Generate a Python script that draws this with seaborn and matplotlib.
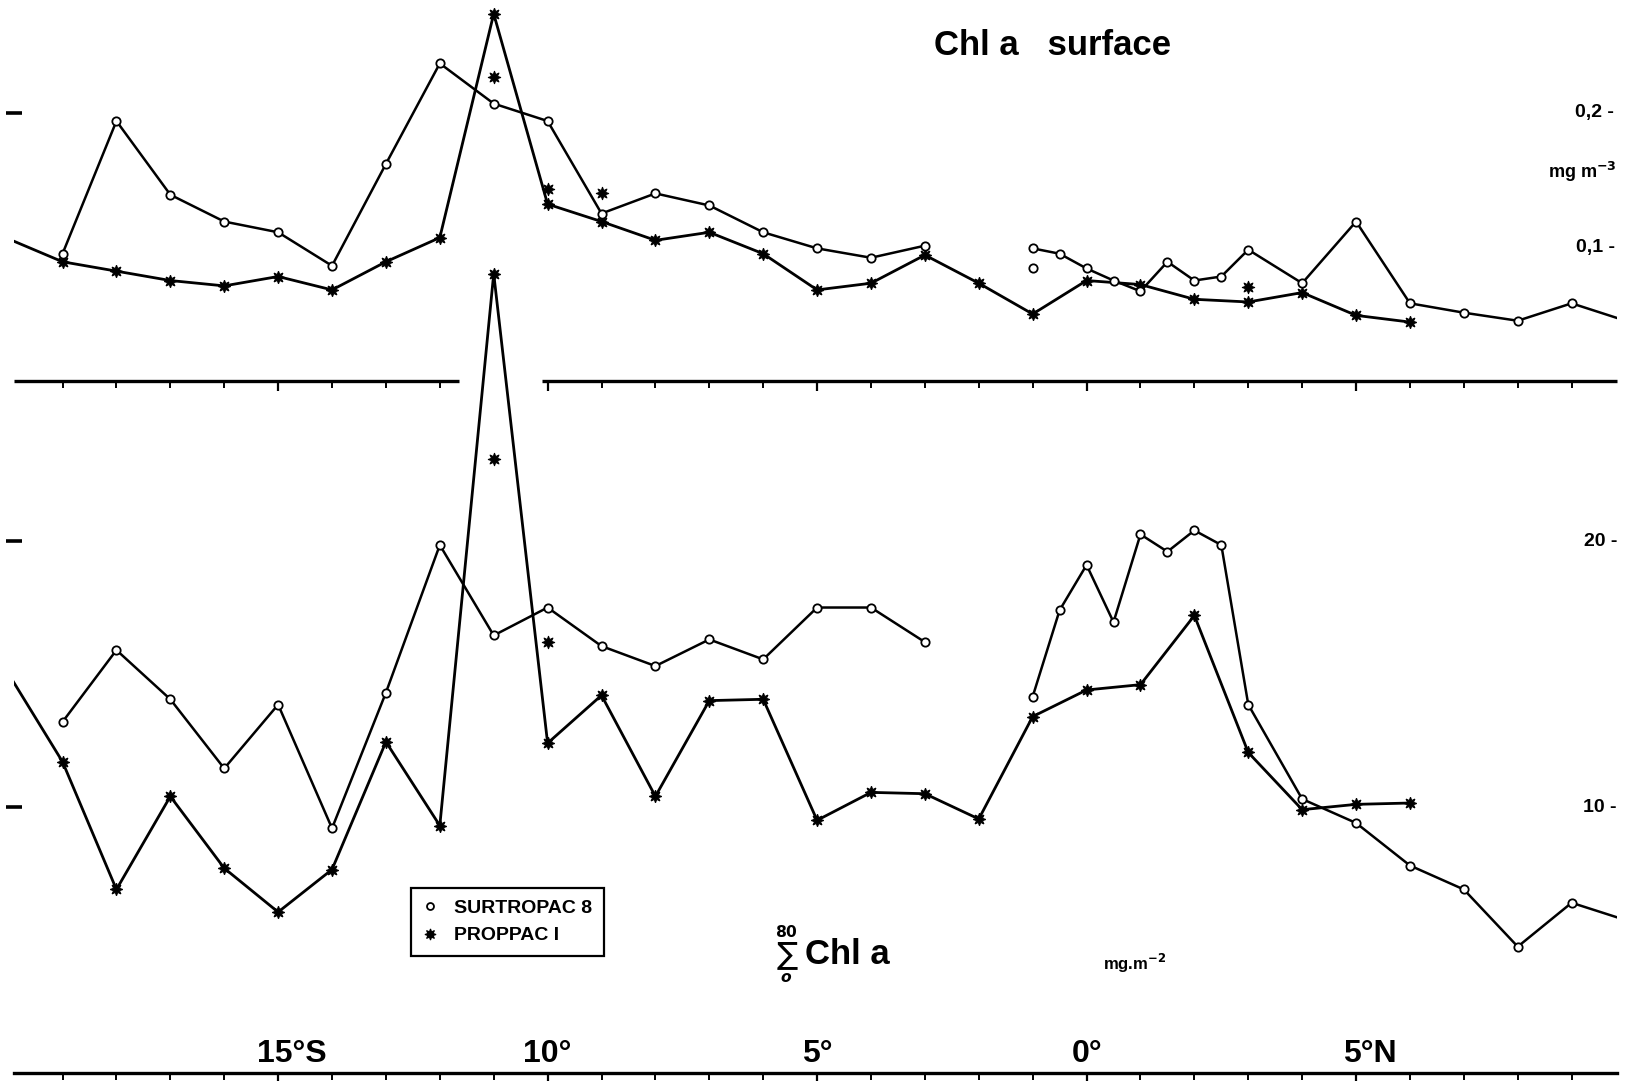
import pandas as pd
import matplotlib
matplotlib.use("Agg")
import matplotlib.pyplot as plt
import seaborn as sns
from matplotlib.lines import Line2D

# latitude in degrees, south is negative
sur_lat_a = [-19, -18, -17, -16, -15, -14, -13, -12, -11, -10, -9, -8, -7, -6, -5, -4, -3]
sur_lat_b = [-1, -0.5, 0, 0.5, 1, 1.5, 2, 2.5, 3, 4, 5, 6, 7, 8, 9, 10]
pro_lat = list(range(-20, 7))

# Chl a surface, mg m-3
sur_surface_a = [0.095, 0.194, 0.139, 0.119, 0.111, 0.086, 0.162, 0.237, 0.207, 0.194,
                 0.125, 0.140, 0.131, 0.111, 0.099, 0.092, 0.101]
sur_surface_b = [0.099, 0.095, 0.084, 0.075, 0.067, 0.089, 0.075, 0.078, 0.098, 0.073,
                 0.119, 0.058, 0.051, 0.045, 0.058, 0.045]
pro_surface = [0.106, 0.089, 0.082, 0.075, 0.071, 0.078, 0.068, 0.089, 0.107, 0.274,
               0.132, 0.119, 0.105, 0.111, 0.095, 0.068, 0.073, 0.094, 0.073, 0.050,
               0.075, 0.072, 0.061, 0.059, 0.066, 0.049, 0.044]

# integrated Chl a 0-80 m, mg m-2
sur_integrated_a = [13.2, 15.9, 14.05, 11.45, 13.85, 9.2, 14.3, 19.85, 16.45, 17.5,
                    16.05, 15.3, 16.3, 15.55, 17.5, 17.5, 16.2]
sur_integrated_b = [14.15, 17.4, 19.1, 16.95, 20.25, 19.6, 20.4, 19.85, 13.85, 10.3,
                    9.4, 7.8, 6.9, 4.75, 6.4, 5.75]
pro_integrated = [15.0, 11.7, 6.9, 10.4, 7.7, 6.05, 7.65, 12.45, 9.3, 30.05,
                  12.4, 14.2, 10.4, 14.0, 14.05, 9.5, 10.55, 10.5, 9.55, 13.4,
                  14.4, 14.6, 17.2, 12.05, 9.9, 10.1, 10.15]

# single casts not joined by the lines
sur_surface_extra_lat = [-1]
sur_surface_extra = [0.084]
pro_surface_extra_lat = [-11, -10, -9, 3]
pro_surface_extra = [0.227, 0.143, 0.140, 0.070]
pro_integrated_extra_lat = [-11, -10]
pro_integrated_extra = [23.1, 16.2]

lat_ticks = [-15, -10, -5, 0, 5]
lat_labels = ["15°S", "10°", "5°", "0°", "5°N"]


def segments(*parts):
    rows = []
    for k, (lat, val) in enumerate(parts):
        for x, y in zip(lat, val):
            rows.append({"lat": x, "value": y, "seg": k})
    return pd.DataFrame(rows)


sns.set_theme(style="white")
plt.rcParams["font.family"] = ["Liberation Sans", "DejaVu Sans"]
plt.rcParams["font.weight"] = "bold"
plt.rcParams["text.color"] = "black"

fig = plt.figure(figsize=(16.31, 10.81), dpi=100)
ax_int = fig.add_axes([0.0086, 0.0074, 0.9831, 0.9926])
ax_surf = fig.add_axes([0.0086, 0.6475, 0.9831, 0.3525])

star = (8, 1, 0)
circle_kw = dict(marker="o", markersize=6, markerfacecolor="white",
                 markeredgecolor="black", markeredgewidth=1.3)
star_kw = dict(marker=star, markersize=9, markerfacecolor="black",
               markeredgecolor="black", markeredgewidth=0.8)

panels = [
    (ax_surf, (sur_lat_a, sur_surface_a), (sur_lat_b, sur_surface_b), pro_surface,
     (sur_surface_extra_lat, sur_surface_extra), (pro_surface_extra_lat, pro_surface_extra)),
    (ax_int, (sur_lat_a, sur_integrated_a), (sur_lat_b, sur_integrated_b), pro_integrated,
     ([], []), (pro_integrated_extra_lat, pro_integrated_extra)),
]

for ax, sa, sb, pro, sx, px in panels:
    ax.set_facecolor("none")
    sns.lineplot(data=segments(sa, sb), x="lat", y="value", units="seg", estimator=None,
                 color="black", lw=1.8, ax=ax, legend=False, **circle_kw, zorder=3)
    # first station sits just off the left edge: line only, no marker
    sns.lineplot(data=segments((pro_lat, pro)), x="lat", y="value", units="seg",
                 estimator=None, color="black", lw=2.0, ax=ax, legend=False,
                 markevery=slice(1, None), **star_kw, zorder=2)
    if sx[0]:
        sns.scatterplot(x=sx[0], y=sx[1], marker="o", s=36, facecolor="white",
                        edgecolor="black", linewidth=1.3, ax=ax, zorder=3)
    sns.scatterplot(x=px[0], y=px[1], marker=star, s=80, color="black",
                    edgecolor="black", linewidth=0.8, ax=ax, zorder=3)
    ax.set_xlim(-19.9, 9.85)
    ax.set_xlabel("")
    ax.set_ylabel("")
    for s in ax.spines.values():
        s.set_visible(False)
    minor = [t for t in range(-19, 10) if t % 5 != 0 and not (ax is ax_surf and t == -11)]
    ax.set_xticks(lat_ticks)
    ax.set_xticks(minor, minor=True)
    ax.tick_params(axis="x", which="major", bottom=True, direction="out",
                   length=7, width=1.6, labelbottom=False, color="black")
    ax.tick_params(axis="x", which="minor", bottom=True, direction="out",
                   length=5, width=1.4, color="black")
    ax.tick_params(axis="y", left=True, direction="inout", length=11, width=2.6,
                   labelleft=False, color="black")

ax_surf.set_ylim(0, 0.2843)
ax_int.set_ylim(0, 40.34)
ax_surf.set_yticks([0.2])
ax_int.set_yticks([10, 20])

# top panel baseline, broken where the integrated spike passes through
ax_surf.hlines(0, -19.9, -11.65, color="black", lw=2.4, clip_on=False)
ax_surf.hlines(0, -10.1, 9.85, color="black", lw=2.4, clip_on=False)
ax_int.spines["bottom"].set_visible(True)
ax_int.spines["bottom"].set_color("black")
ax_int.spines["bottom"].set_linewidth(2.4)

for t, lab in zip(lat_ticks, lat_labels):
    nudge = 0.25 if lab[-1] in "SN" else 0
    ax_int.text(t + nudge, 0.72, lab, ha="center", va="center",
                fontsize=23, fontweight="bold")

ax_surf.text(9.78, 0.2, "0,2 -", ha="right", va="center", fontsize=14, fontweight="bold")
ax_surf.text(9.80, 0.1, "0,1 -", ha="right", va="center", fontsize=14, fontweight="bold")
ax_surf.text(9.84, 0.156, r"mg m$^{\mathbf{-3}}$", ha="right", va="center",
             fontsize=13, fontweight="bold")
ax_int.text(9.84, 20, "20 -", ha="right", va="center", fontsize=14, fontweight="bold")
ax_int.text(9.84, 10, "10 -", ha="right", va="center", fontsize=14, fontweight="bold")

fig.text(0.6455, 0.958, "Chl a   surface", ha="center", va="center",
         fontsize=25, fontweight="bold")
fig.text(0.4826, 0.1166, r"$\sum_{o}^{80}$", ha="center", va="center", fontsize=16)
fig.text(0.4935, 0.1166, "Chl a", ha="left", va="center", fontsize=25, fontweight="bold")
fig.text(0.676, 0.109, r"mg.m$^{\mathbf{-2}}$", ha="left", va="center",
         fontsize=12, fontweight="bold")

handles = [Line2D([], [], ls="none", **dict(circle_kw, markersize=5)),
           Line2D([], [], ls="none", **dict(star_kw, markersize=8))]
leg = fig.legend(handles, ["SURTROPAC 8", "PROPPAC I"], loc="lower left",
                 bbox_to_anchor=(0.252, 0.1156), bbox_transform=fig.transFigure,
                 borderaxespad=0, frameon=True, fancybox=False, edgecolor="black",
                 framealpha=1, handlelength=0.8, handletextpad=0.8, borderpad=0.6,
                 labelspacing=0.5, prop={"size": 14, "weight": "bold"},
                 labelcolor="black")
leg.get_frame().set_linewidth(1.6)

fig.savefig("out.png", dpi=100)
